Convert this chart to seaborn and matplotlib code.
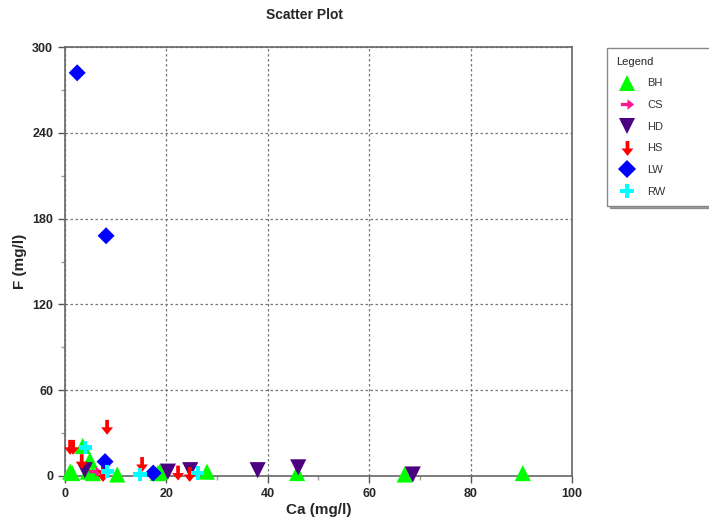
import numpy as np
import pandas as pd
import seaborn as sns
import matplotlib.pyplot as plt
from matplotlib.path import Path
from matplotlib.ticker import MultipleLocator

# valores (Ca, F em mg/l)
bh_ca = [1.0, 1.4, 3.5, 4.5, 4.9, 5.5, 10.3, 18.3, 18.7, 28.0, 45.8, 67.0, 90.3]
bh_f = [3, 2, 21, 3, 11, 2, 1, 2, 3, 3, 2, 1, 2]
cs_ca = [6.0]
cs_f = [3]
hd_ca = [3.9, 20.3, 24.7, 38.0, 46.0, 68.6]
hd_f = [4, 3, 4, 4, 6, 1]
hs_ca = [1.0, 1.6, 3.3, 7.5, 7.5, 8.3, 15.2, 22.3, 24.6]
hs_f = [20, 20, 10, 4, 1, 34, 8, 2, 1]
lw_ca = [2.4, 8.1, 7.9, 17.4]
lw_f = [282, 168, 10, 2]
rw_ca = [4.0, 8.3, 14.8, 26.2]
rw_f = [20, 3, 1, 2]

grupos = ['BH', 'CS', 'HD', 'HS', 'LW', 'RW']
cores = ['#00ff00', '#ff1493', '#4b0082', '#ff0000', '#0000ff', '#00ffff']
tamanhos = [135, 90, 135, 115, 75, 90]

dados = []
for g, xs, ys in zip(grupos, [bh_ca, cs_ca, hd_ca, hs_ca, lw_ca, rw_ca],
                     [bh_f, cs_f, hd_f, hs_f, lw_f, rw_f]):
    for a, b in zip(xs, ys):
        dados.append({'Ca': a, 'F': b, 'grupo': g})
df = pd.DataFrame(dados)

# setas como marcadores
seta_dir = Path([(-1, 0.25), (0, 0.25), (0, 0.8), (1, 0), (0, -0.8), (0, -0.25), (-1, -0.25), (-1, 0.25)])
seta_baixo = Path([(0.25, 1), (0.25, 0), (0.8, 0), (0, -1), (-0.8, 0), (-0.25, 0), (-0.25, 1), (0.25, 1)])
marcadores = {'BH': '^', 'CS': seta_dir, 'HD': 'v', 'HS': seta_baixo, 'LW': 'D', 'RW': 'P'}

sns.set_style('white')
plt.rcParams['font.family'] = ['Liberation Sans', 'DejaVu Sans']

fig = plt.figure(figsize=(7.09, 5.23), dpi=100)
ax = fig.add_axes([0.0917, 0.090, 0.715, 0.820])

sns.scatterplot(data=df, x='Ca', y='F', hue='grupo', style='grupo', size='grupo',
                hue_order=grupos, style_order=grupos, size_order=grupos,
                palette=dict(zip(grupos, cores)), markers=marcadores,
                sizes=dict(zip(grupos, tamanhos)),
                linewidth=0, ax=ax, legend=True, zorder=3, clip_on=False)

ax.set_xlim(0, 100)
ax.set_ylim(0, 300)
ax.xaxis.set_major_locator(MultipleLocator(20))
ax.xaxis.set_minor_locator(MultipleLocator(10))
ax.yaxis.set_major_locator(MultipleLocator(60))
ax.yaxis.set_minor_locator(MultipleLocator(30))
ax.grid(True, which='major', linestyle=(0, (2, 2)), color='#777777', linewidth=0.9)
ax.tick_params(which='major', direction='out', length=5, width=1, color='#555555',
               labelsize=9, bottom=True, left=True)
ax.tick_params(which='minor', direction='out', length=3, width=1, color='#999999',
               bottom=True, left=True)
for lbl in ax.get_xticklabels() + ax.get_yticklabels():
    lbl.set_fontweight('bold')
for sp in ax.spines.values():
    sp.set_color('#666666')
    sp.set_linewidth(1.2)

ax.set_xlabel('Ca (mg/l)', fontsize=11, fontweight='bold', labelpad=2)
ax.set_ylabel('F (mg/l)', fontsize=11, fontweight='bold', labelpad=4)
fig.text(0.43, 0.972, 'Scatter Plot', ha='center', va='center', fontsize=10, fontweight='bold')

leg = ax.legend(title='Legend', loc='upper left', bbox_to_anchor=(1.069, 0.998, 0.213, 0.0),
                mode='expand', borderaxespad=0, frameon=True, shadow=True,
                fontsize=8, title_fontsize=8,
                labelspacing=1.05, borderpad=0.8, handletextpad=0.8,
                fancybox=False, edgecolor='#888888')
leg._legend_box.align = 'left'
for t in leg.get_texts():
    t.set_color('#333333')

fig.savefig('out.png', dpi=100)
